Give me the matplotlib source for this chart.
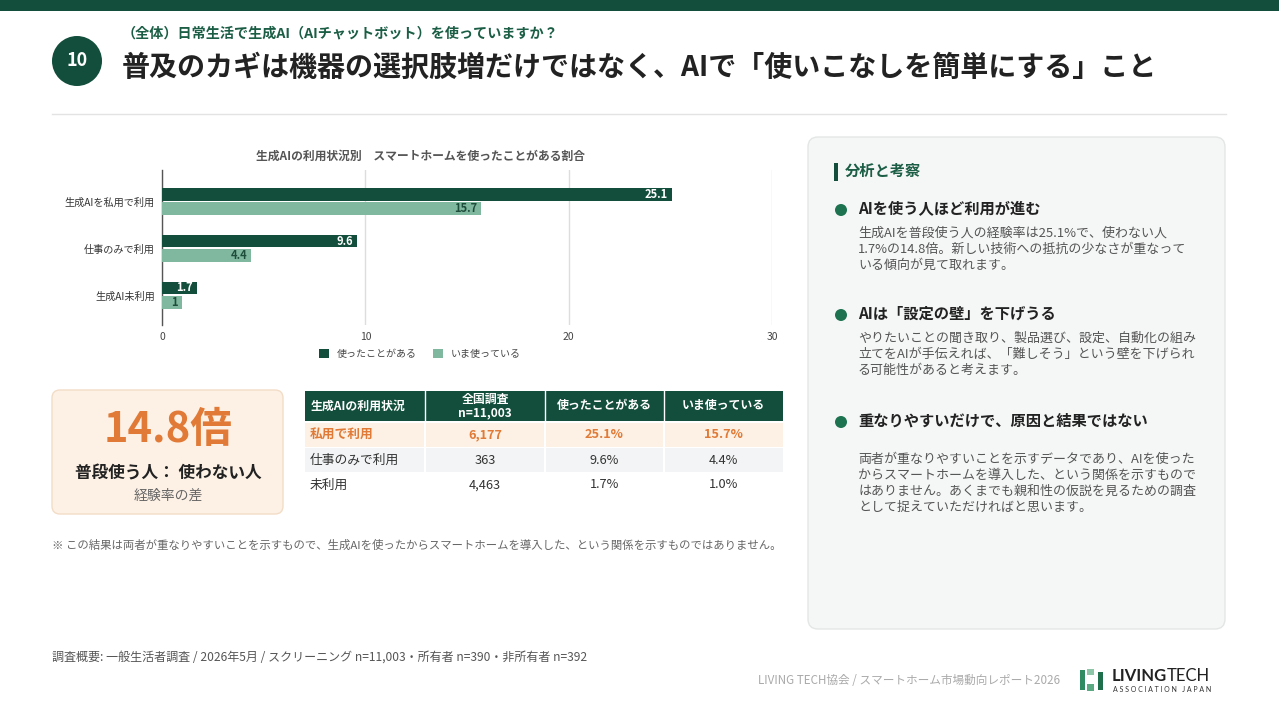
import matplotlib
matplotlib.use('Agg')
import matplotlib.pyplot as plt
from matplotlib.patches import FancyBboxPatch, Rectangle, Circle

plt.rcParams['font.family'] = ['Noto Sans CJK JP', 'DejaVu Sans']

# ---------------- data ----------------
categories = ['生成AIを私用で利用', '仕事のみで利用', '生成AI未利用']
used_ever = [25.1, 9.6, 1.7]
using_now = [15.7, 4.4, 1.0]
series_names = ['使ったことがある', 'いま使っている']
x_ticks = [0, 10, 20, 30]

table_header = ['生成AIの利用状況', '全国調査\nn=11,003', '使ったことがある', 'いま使っている']
table_rows = ['私用で利用', '仕事のみで利用', '未利用']
table_n = ['6,177', '363', '4,463']
table_ever = ['25.1%', '9.6%', '1.7%']
table_now = ['15.7%', '4.4%', '1.0%']

kpi_value = '14.8倍'
kpi_label = '普段使う人： 使わない人'
kpi_sub = '経験率の差'

points = [
    ('AIを使う人ほど利用が進む',
     ['生成AIを普段使う人の経験率は25.1%で、使わない人',
      '1.7%の14.8倍。新しい技術への抵抗の少なさが重なって',
      'いる傾向が見て取れます。']),
    ('AIは「設定の壁」を下げうる',
     ['やりたいことの聞き取り、製品選び、設定、自動化の組み',
      '立てをAIが手伝えれば、「難しそう」という壁を下げられ',
      'る可能性があると考えます。']),
    ('重なりやすいだけで、原因と結果ではない',
     ['両者が重なりやすいことを示すデータであり、AIを使った',
      'からスマートホームを導入した、という関係を示すもので',
      'はありません。あくまでも親和性の仮説を見るための調査',
      'として捉えていただければと思います。']),
]

# ---------------- style ----------------
DARK = '#124e3b'
LIGHT = '#7fb89e'
ORANGE = '#e07a36'
PEACH = '#fdf1e5'

W, H = 1279, 719
fig = plt.figure(figsize=(W / 100, H / 100), dpi=100)
fig.patch.set_facecolor('white')
bg = fig.add_axes([0, 0, 1, 1], zorder=0)
bg.set_xlim(0, W)
bg.set_ylim(H, 0)
bg.axis('off')


def px_axes(l, t, r, b):
    return [l / W, 1 - b / H, (r - l) / W, (b - t) / H]


# header
bg.add_patch(Rectangle((0, 0), W, 11, color=DARK, lw=0))
bg.add_patch(Circle((77, 61), 25, color=DARK, lw=0))
bg.text(77, 61, '10', color='white', fontsize=13, fontweight='bold', ha='center', va='center')
bg.text(122, 34, '（全体）日常生活で生成AI（AIチャットボット）を使っていますか？',
        color='#1b5e45', fontsize=10.15, fontweight='bold', ha='left', va='center')
bg.text(122, 68, '普及のカギは機器の選択肢増だけではなく、AIで「使いこなしを簡単にする」こと',
        color='#222222', fontsize=20.2, fontweight='bold', ha='left', va='center')
bg.plot([52, 1226], [114, 114], color='#e3e3e3', lw=1)

# ---------------- bar chart ----------------
ax = fig.add_axes(px_axes(162, 170, 772, 325), zorder=2)
ax.patch.set_alpha(0)
ypos = list(range(len(categories)))
bh = 0.275
off = 0.158
b1 = ax.barh([y - off for y in ypos], used_ever, height=bh, color=DARK, label=series_names[0], zorder=3)
b2 = ax.barh([y + off for y in ypos], using_now, height=bh, color=LIGHT, label=series_names[1], zorder=3)
for y, v in zip(ypos, used_ever):
    ax.annotate(f'{v:g}', (v, y - off), xytext=(-3, 0), textcoords='offset points',
                ha='right', va='center', color='white', fontsize=8, fontweight='bold', zorder=4)
for y, v in zip(ypos, using_now):
    ax.annotate(f'{v:g}', (v, y + off), xytext=(-3, 0), textcoords='offset points',
                ha='right', va='center', color='#1f4d3c', fontsize=8, fontweight='bold', zorder=4)
ax.set_xlim(0, 30)
ax.set_ylim(2.63, -0.67)
ax.set_xticks(x_ticks)
ax.set_xticklabels([str(t) for t in x_ticks], fontsize=7.5, color='#444444')
ax.set_yticks(ypos)
ax.set_yticklabels(categories, fontsize=7.3, color='#333333')
ax.tick_params(length=0, pad=5)
for s in ['top', 'right', 'bottom']:
    ax.spines[s].set_visible(False)
ax.spines['left'].set_color('#555555')
ax.spines['left'].set_linewidth(1)
ax.xaxis.grid(True, color='#dddddd', lw=1, zorder=0)
ax.set_axisbelow(True)
fig.text(420 / W, 1 - 156 / H, '生成AIの利用状況別　スマートホームを使ったことがある割合',
         fontsize=8.5, color='#555555', fontweight='bold', ha='center', va='center')
fig.legend(handles=[b1, b2], labels=series_names, loc='center', ncol=2,
           bbox_to_anchor=(420 / W, 1 - 354 / H), bbox_transform=fig.transFigure,
           frameon=False, fontsize=7.2, handlelength=1.0, handleheight=1.0,
           handletextpad=0.8, columnspacing=1.6, labelcolor='#444444')

# ---------------- KPI card ----------------
bg.add_patch(FancyBboxPatch((52, 390), 231, 124, boxstyle='round,pad=0,rounding_size=8',
                            fc=PEACH, ec='#f2dcc6', lw=1))
bg.text(168, 430, kpi_value, color=ORANGE, fontsize=30, fontweight='bold', ha='center', va='center')
bg.text(168, 473, kpi_label, color='#222222', fontsize=12, fontweight='bold', ha='center', va='center')
bg.text(168, 496, kpi_sub, color='#666666', fontsize=10, ha='center', va='center')

# ---------------- table ----------------
col_x = [305, 425, 545, 664, 783]
bg.add_patch(Rectangle((col_x[0], 391), col_x[-1] - col_x[0], 30, color=DARK, lw=0))
for i in range(1, 4):
    bg.plot([col_x[i], col_x[i]], [391, 421], color='white', lw=1)
for i, h in enumerate(table_header):
    if i == 0:
        bg.text(col_x[0] + 6, 406, h, color='white', fontsize=8.6, fontweight='bold', ha='left', va='center')
    else:
        bg.text((col_x[i] + col_x[i + 1]) / 2, 406, h, color='white', fontsize=8.6, fontweight='bold',
                ha='center', va='center', linespacing=1.0)
row_y = [423, 448, 473]
row_fill = [PEACH, '#f3f4f5', 'white']
for r, (name, n, e, now) in enumerate(zip(table_rows, table_n, table_ever, table_now)):
    y0 = row_y[r]
    bg.add_patch(Rectangle((col_x[0], y0), col_x[-1] - col_x[0], 23.5, color=row_fill[r], lw=0))
    for i in range(1, 4):
        bg.plot([col_x[i], col_x[i]], [y0, y0 + 23.5], color='white', lw=1.5)
    yc = y0 + 12
    hl = (r == 0)
    col = ORANGE if hl else '#333333'
    fw = 'bold' if hl else 'normal'
    bg.text(col_x[0] + 5, yc, name, color=col, fontsize=9.2, fontweight=fw, ha='left', va='center')
    for i, val in enumerate([n, e, now], start=1):
        bg.text((col_x[i] + col_x[i + 1]) / 2, yc, val, color=col, fontsize=9.2, fontweight=fw,
                ha='center', va='center')

bg.text(52, 545, '※ この結果は両者が重なりやすいことを示すもので、生成AIを使ったからスマートホームを導入した、という関係を示すものではありません。',
        color='#666666', fontsize=8.2, ha='left', va='center')

# ---------------- right panel ----------------
bg.add_patch(FancyBboxPatch((808, 137), 417, 492, boxstyle='round,pad=0,rounding_size=10',
                            fc='#f5f6f6', ec='#e4e6e6', lw=1))
bg.add_patch(Rectangle((834, 163), 4, 18, color=DARK, lw=0))
bg.text(845, 171, '分析と考察', color='#1b5e45', fontsize=11, fontweight='bold', ha='left', va='center')
head_y = [209, 314, 421]
body_y0 = [233, 338, 459]
for (head, lines), hy, by in zip(points, head_y, body_y0):
    bg.add_patch(Circle((841, hy + 1), 6, color='#1d7350', lw=0))
    bg.text(858, hy, head, color='#222222', fontsize=11, fontweight='bold', ha='left', va='center')
    for k, ln in enumerate(lines):
        bg.text(858, by + 16 * k, ln, color='#555555', fontsize=9.35, ha='left', va='center')

# ---------------- footer ----------------
bg.text(52, 657, '調査概要: 一般生活者調査 / 2026年5月 / スクリーニング n=11,003・所有者 n=390・非所有者 n=392',
        color='#555555', fontsize=8.65, ha='left', va='center')
bg.text(1060, 680, 'LIVING TECH協会 / スマートホーム市場動向レポート2026',
        color='#aaaaaa', fontsize=8.4, ha='right', va='center')
bg.add_patch(Rectangle((1080, 670), 4.5, 20, color='#2e8b62', lw=0))
bg.add_patch(Rectangle((1086.5, 669), 7.5, 6, color='#8cc5a8', lw=0))
bg.add_patch(Rectangle((1086.5, 684), 7.5, 7, color='#5aa983', lw=0))
bg.add_patch(Rectangle((1098, 672), 4.5, 18, color='#1f6e4c', lw=0))
bg.text(1112, 676, 'LIVING', color='#222222', fontsize=12, fontweight='bold', ha='left', va='center',
        family=['Lato', 'DejaVu Sans'])
bg.text(1167, 676, 'TECH', color='#222222', fontsize=12, ha='left', va='center',
        family=['Lato', 'DejaVu Sans'])
bg.text(1113, 689, 'A S S O C I A T I O N   J A P A N', color='#333333', fontsize=5, ha='left', va='center',
        family=['Lato', 'DejaVu Sans'])

fig.savefig('out.png', dpi=100)
